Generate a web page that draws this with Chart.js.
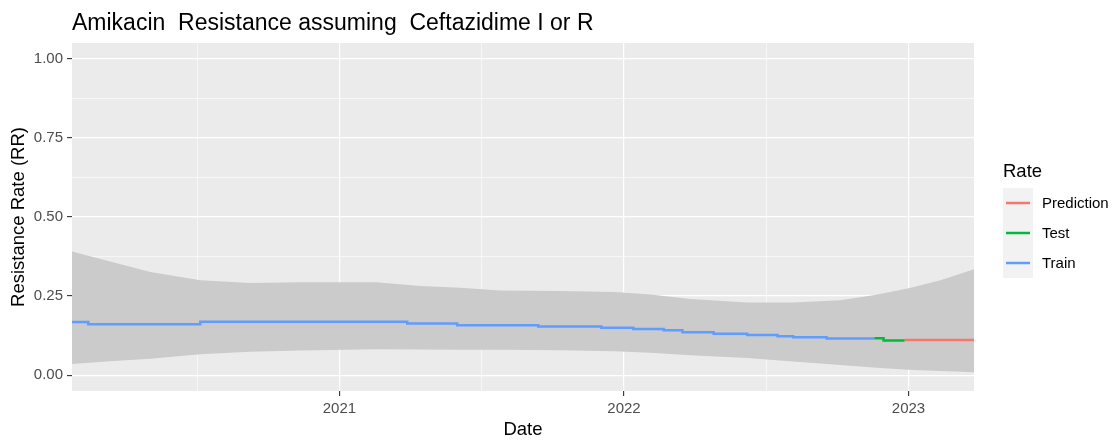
<!DOCTYPE html>
<html>
<head>
<meta charset="utf-8">
<script src="https://cdn.jsdelivr.net/npm/chart.js@4.4.1/dist/chart.umd.min.js"></script>
<style>
  html, body { margin: 0; padding: 0; background: #fff; }
  #wrap { width: 1117px; height: 442px; }
</style>
</head>
<body>
<div id="wrap"><canvas id="myChart"></canvas></div>
<script>
// step line (geom_step, horizontal then vertical)
const trainDates = ['2020-01-23', '2020-02-13', '2020-07-06', '2021-03-29', '2021-06-01', '2021-09-13',
    '2021-12-03', '2022-01-13', '2022-02-21', '2022-03-17', '2022-04-26', '2022-06-08',
    '2022-07-17', '2022-08-06', '2022-09-18', '2022-11-18'];
const trainRates = [0.168, 0.161, 0.169, 0.163, 0.158, 0.154,
    0.150, 0.146, 0.142, 0.136, 0.131, 0.127,
    0.123, 0.120, 0.116, 0.116];

const testDates = ['2022-11-18', '2022-11-30', '2022-12-27'];
const testRates = [0.117, 0.110, 0.110];

const predDates = ['2022-12-27', '2023-03-26'];
const predRates = [0.111, 0.111];

// confidence band
const bandDates = ['2020-01-23', '2020-03-12', '2020-05-03', '2020-07-06', '2020-09-08', '2020-11-11',
    '2021-02-17', '2021-04-15', '2021-06-05', '2021-07-26', '2021-10-11', '2021-12-20',
    '2022-02-04', '2022-03-27', '2022-06-08', '2022-08-06', '2022-10-05', '2022-11-17',
    '2022-12-31', '2023-02-11', '2023-03-26'];
const bandUpper = [0.391, 0.359, 0.326, 0.300, 0.291, 0.294,
    0.294, 0.282, 0.276, 0.268, 0.266, 0.263,
    0.255, 0.241, 0.230, 0.230, 0.237, 0.253,
    0.274, 0.300, 0.335];
const bandLower = [0.035, 0.044, 0.052, 0.066, 0.074, 0.078,
    0.082, 0.081, 0.080, 0.080, 0.079, 0.076,
    0.071, 0.063, 0.054, 0.043, 0.032, 0.024,
    0.017, 0.013, 0.009];

const xTicks = [2020.5, 2021, 2021.5, 2022, 2022.5, 2023];
const yTicks = [0, 0.125, 0.25, 0.375, 0.5, 0.625, 0.75, 0.875, 1];

const legendNames = ['Prediction', 'Test', 'Train'];
const legendColors = ['#F8766D', '#00BA38', '#619CFF'];

function toYear(s) {
    const [y, m, d] = s.split('-').map(Number);
    const t0 = Date.UTC(y, 0, 1), t1 = Date.UTC(y + 1, 0, 1);
    return y + (Date.UTC(y, m - 1, d) - t0) / (t1 - t0);
}
function pts(dates, vals) {
    return dates.map((d, i) => ({ x: toYear(d), y: vals[i] }));
}

const FONT = "'Liberation Sans', Arial, sans-serif";

const panelBg = {
    id: 'panelBg',
    beforeDraw(chart) {
        const a = chart.chartArea, c = chart.ctx;
        c.save();
        c.fillStyle = '#EBEBEB';
        c.fillRect(a.left, a.top, a.right - a.left, a.bottom - a.top);
        c.restore();
    }
};

const rateLegend = {
    id: 'rateLegend',
    afterDraw(chart) {
        const c = chart.ctx, a = chart.chartArea;
        const x0 = a.right + 29;
        c.save();
        c.fillStyle = '#000';
        c.font = '18.5px ' + FONT;
        c.textBaseline = 'middle';
        c.fillText('Rate', x0, 172);
        legendNames.forEach((name, i) => {
            const cy = 203 + i * 30;
            c.fillStyle = '#F2F2F2';
            c.fillRect(x0, cy - 15, 30, 30);
            c.strokeStyle = legendColors[i];
            c.lineWidth = 2.5;
            c.beginPath();
            c.moveTo(x0 + 3, cy);
            c.lineTo(x0 + 27, cy);
            c.stroke();
            c.fillStyle = '#000';
            c.font = '15px ' + FONT;
            c.fillText(name, x0 + 39, cy + 1);
        });
        c.restore();
    }
};

const ctx = document.getElementById('myChart').getContext('2d');

const myChart = new Chart(ctx, {
    type: 'line',
    data: {
        datasets: [{
            label: 'upper',
            data: pts(bandDates, bandUpper),
            borderWidth: 0,
            pointRadius: 0,
            backgroundColor: '#CBCBCB',
            fill: '+1',
            order: 10
        }, {
            label: 'lower',
            data: pts(bandDates, bandLower),
            borderWidth: 0,
            pointRadius: 0,
            fill: false,
            order: 10
        }, {
            label: 'Train',
            data: pts(trainDates, trainRates),
            borderColor: legendColors[2],
            borderWidth: 2.5,
            pointRadius: 0,
            stepped: 'before',
            fill: false,
            order: 1
        }, {
            label: 'Test',
            data: pts(testDates, testRates),
            borderColor: legendColors[1],
            borderWidth: 2.5,
            pointRadius: 0,
            stepped: 'before',
            fill: false,
            order: 1
        }, {
            label: 'Prediction',
            data: pts(predDates, predRates),
            borderColor: legendColors[0],
            borderWidth: 2.5,
            pointRadius: 0,
            stepped: 'before',
            fill: false,
            order: 1
        }]
    },
    options: {
        responsive: true,
        maintainAspectRatio: false,
        animation: false,
        layout: { padding: { left: 8, right: 143, top: 0, bottom: 0 } },
        plugins: {
            legend: { display: false },
            tooltip: { enabled: false },
            title: {
                display: true,
                text: 'Amikacin  Resistance assuming  Ceftazidime I or R',
                align: 'start',
                fullSize: false,
                color: '#000',
                font: { family: FONT, size: 23, weight: 'normal', lineHeight: 1.2 },
                padding: { top: 10, bottom: 5.4 }
            }
        },
        scales: {
            x: {
                type: 'linear',
                min: toYear('2020-01-23'),
                max: toYear('2023-03-26'),
                afterBuildTicks: s => { s.ticks = xTicks.map(v => ({ value: v })); },
                afterFit: s => { s.height = 51; },
                border: { display: false },
                grid: {
                    color: '#FFFFFF',
                    lineWidth: c => (c.tick && Number.isInteger(c.tick.value)) ? 1.2 : 0.6,
                    tickColor: c => (c.tick && Number.isInteger(c.tick.value)) ? '#333333' : 'rgba(0,0,0,0)',
                    tickLength: 5,
                    tickWidth: 1.1
                },
                ticks: {
                    autoSkip: false,
                    maxRotation: 0,
                    padding: 4,
                    color: '#4D4D4D',
                    font: { family: FONT, size: 15 },
                    callback: v => Number.isInteger(v) ? String(v) : ''
                },
                title: {
                    display: true,
                    text: 'Date',
                    color: '#000',
                    font: { family: FONT, size: 18.5 },
                    padding: { top: 0, bottom: 1 }
                }
            },
            y: {
                min: -0.05,
                max: 1.05,
                afterBuildTicks: s => { s.ticks = yTicks.map(v => ({ value: v })); },
                afterFit: s => { s.width = 64; },
                border: { display: false },
                grid: {
                    color: '#FFFFFF',
                    lineWidth: c => (c.tick && (c.tick.value * 4) % 1 === 0) ? 1.2 : 0.6,
                    tickColor: c => (c.tick && (c.tick.value * 4) % 1 === 0) ? '#333333' : 'rgba(0,0,0,0)',
                    tickLength: 5,
                    tickWidth: 1.1
                },
                ticks: {
                    autoSkip: false,
                    padding: 4,
                    color: '#4D4D4D',
                    font: { family: FONT, size: 15 },
                    callback: v => ((v * 4) % 1 === 0) ? v.toFixed(2) : ''
                },
                title: {
                    display: true,
                    text: 'Resistance Rate (RR)',
                    color: '#000',
                    font: { family: FONT, size: 18.5 },
                    padding: { top: 0, bottom: 0 }
                }
            }
        }
    },
    plugins: [panelBg, rateLegend]
});
</script>
</body>
</html>
